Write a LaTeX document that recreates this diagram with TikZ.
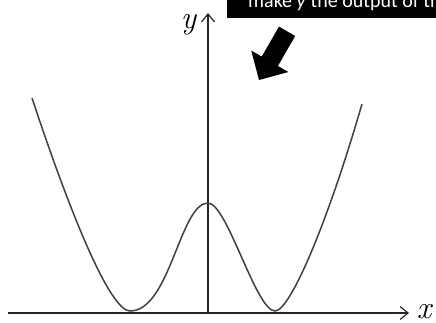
\documentclass[tikz,border=0pt]{standalone}
\usepackage{fontspec}
\newfontfamily\notefont{Carlito}
\usetikzlibrary{arrows.meta}
\tikzset{
  axisline/.style={line width=1.3pt, draw=black!85, -{Straight Barb[length=8pt,width=13pt,line width=1.2pt]}},
  curveline/.style={line width=1.5pt, draw=black!75},
  axlabel/.style={font=\itshape\fontsize{32}{32}\selectfont, inner sep=0pt, anchor=base},
  notetext/.style={text=white, font=\notefont\fontsize{20}{20}\selectfont, inner sep=0pt, anchor=base west}
}
\begin{document}
\begin{tikzpicture}[x=1pt,y=-1pt]
\useasboundingbox (0,0) rectangle (436,322);
\clip (0,0) rectangle (436,322);
\fill[white] (0,0) rectangle (436,322);
% note box
\fill[black] (227,-20) rectangle (470,18);
\node[notetext] (note) at (248,7) {make \textit{y} the output of the function};
% block arrow
\fill[black] (279,26.6) -- (295.2,36) -- (277.9,66) -- (288.4,72) -- (259,80) -- (251.2,50.5) -- (261.7,56.6) -- cycle;
% axes
\coordinate (xs) at (8,313);
\coordinate (xe) at (409,313);
\coordinate (ys) at (208,314);
\coordinate (ye) at (208,13);
\draw[axisline] (xs) -- (xe);
\draw[axisline] (ys) -- (ye);
\node[axlabel] (xl) at (424,318) {x};
\node[axlabel] (yl) at (188.5,28) {y};
% curve
\coordinate (tl) at (32,98);
\coordinate (ml) at (130,311);
\coordinate (hp) at (208,203);
\coordinate (mr) at (275,311);
\coordinate (tr) at (362,104);
\draw[curveline] (tl) .. controls (70,213) and (110,311) .. (ml)
  .. controls (170,311) and (180,203) .. (hp)
  .. controls (227,203) and (256,311) .. (mr)
  .. controls (290,311) and (327.2,224) .. (tr);
\end{tikzpicture}
\end{document}
